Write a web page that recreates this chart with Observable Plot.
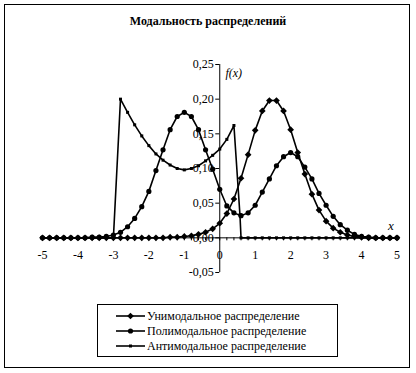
<!DOCTYPE html>
<html><head><meta charset="utf-8">
<script src="https://cdn.jsdelivr.net/npm/d3@7"></script>
<script src="https://cdn.jsdelivr.net/npm/@observablehq/plot@0.6"></script>
<style>
body{margin:0;background:#fff;}
#wrap{position:relative;width:416px;height:373px;overflow:hidden;font-family:"Liberation Serif","Tinos","Times New Roman","DejaVu Serif",serif;background:#fff;}
#frame{position:absolute;left:4px;top:4px;width:406px;height:364px;border:1.5px solid #000;box-sizing:border-box;}
#title{position:absolute;left:0;top:14px;width:416px;text-align:center;font-weight:bold;font-size:12px;line-height:14px;}
#chart,#legend{position:absolute;left:0;top:0;}
#chart svg text, #legend text{font-family:"Liberation Serif","Tinos","Times New Roman","DejaVu Serif",serif;}
</style></head>
<body>
<div id="wrap"><div id="frame"></div><div id="title">Модальность распределений</div><div id="chart"></div><svg id="legend" width="416" height="373"></svg></div>
<script>
const titleText = "Модальность распределений";
const seriesNames = ["Унимодальное распределение","Полимодальное распределение","Антимодальное распределение"];
const xs = [-5,-4.8,-4.6,-4.4,-4.2,-4,-3.8,-3.6,-3.4,-3.2,-3,-2.8,-2.6,-2.4,-2.2,-2,-1.8,-1.6,-1.4,-1.2,-1,-0.8,-0.6,-0.4,-0.2,0,0.2,0.4,0.6,0.8,1,1.2,1.4,1.6,1.8,2,2.2,2.4,2.6,2.8,3,3.2,3.4,3.6,3.8,4,4.2,4.4,4.6,4.8,5];
const unimodal = [0,0,0,0,0,0,0,0,0,0,0,0,0,0,0,0,0,0,0.001,0.001,0.002,0.003,0.005,0.008,0.013,0.021,0.035,0.056,0.086,0.12,0.155,0.183,0.198,0.198,0.183,0.156,0.123,0.092,0.063,0.04,0.024,0.014,0.008,0.004,0.002,0.001,0,0,0,0,0];
const polymodal = [0,0,0,0,0,0,0,0.001,0.001,0.002,0.004,0.008,0.016,0.028,0.045,0.067,0.097,0.127,0.156,0.175,0.181,0.175,0.156,0.127,0.099,0.07,0.046,0.036,0.032,0.036,0.047,0.066,0.085,0.104,0.117,0.123,0.117,0.102,0.085,0.064,0.047,0.031,0.019,0.011,0.005,0.002,0.001,0,0,0,0];
const antiXs = [-5,-4.8,-4.6,-4.4,-4.2,-4,-3.8,-3.6,-3.4,-3.2,-3,-2.8,-2.6,-2.4,-2.2,-2,-1.8,-1.6,-1.4,-1.2,-1,-0.8,-0.6,-0.4,-0.2,0,0.2,0.4,0.57,0.6,0.8,1,1.2,1.4,1.6,1.8,2,2.2,2.4,2.6,2.8,3,3.2,3.4,3.6,3.8,4,4.2,4.4,4.6,4.8,5];
const antimodal = [0,0,0,0,0,0,0,0,0,0,0,0.2,0.181,0.163,0.147,0.133,0.121,0.112,0.105,0.1,0.098,0.1,0.104,0.111,0.119,0.128,0.142,0.162,0.033,0,0,0,0,0,0,0,0,0,0,0,0,0,0,0,0,0,0,0,0,0,0,0];
const xTicks = [-5,-4,-3,-2,-1,0,1,2,3,4,5];
const xTickLabels = ["-5","-4","-3","-2","-1","0","1","2","3","4","5"];
const xMinorTicks = xs;
const yTicks = [-0.05,0,0.05,0.1,0.15,0.2,0.25];
const yTickLabels = ["-0,05","0,00","0,05","0,10","0,15","0,20","0,25"];
const symbols = ["diamond2","circle","square"];
const symR = [3.0,2.6,1.7];

const uniData = xs.map((x,i)=>({x, y:unimodal[i]}));
const polyData = xs.map((x,i)=>({x, y:polymodal[i]}));
const antiData = antiXs.map((x,i)=>({x, y:antimodal[i]}));
const all = [uniData, polyData, antiData];

const xDom = [xs[0], xs[xs.length-1]];
const yDom = [yTicks[0], yTicks[yTicks.length-1]];
const font = "'Liberation Serif','Tinos','Times New Roman','DejaVu Serif',serif";

const marks = [
  Plot.ruleY([0], {x1: xDom[0], x2: xDom[1], stroke:"#000", strokeWidth:1}),
  Plot.ruleX([0], {y1: yDom[0], y2: yDom[1], stroke:"#000", strokeWidth:1}),
  Plot.ruleX(xMinorTicks, {x:d=>d, y1:0, y2:0, insetBottom:-3, stroke:"#000", strokeWidth:1}),
  Plot.ruleY(yTicks, {y:d=>d, x1:0, x2:0, insetLeft:-4, stroke:"#000", strokeWidth:1}),
  Plot.text(yTicks, {x:0, y:d=>d, text:(d,i)=>yTickLabels[i], textAnchor:"end", dx:-6, fontSize:12, fill:"#000"}),
  Plot.text(xTicks, {x:d=>d, y:0, text:(d,i)=>xTickLabels[i], dy:17, fontSize:12, fill:"#000"}),
  Plot.text(["f(x)"], {x:0, y:yDom[1], text:d=>d, dx:14, dy:9, fontStyle:"italic", fontSize:12, fill:"#000"}),
  Plot.text(["x"], {x:xDom[1], y:0, text:d=>d, dx:-6, dy:-12, fontStyle:"italic", fontSize:13, fill:"#000"})
];
all.forEach((d,k)=>{
  marks.push(Plot.line(d, {x:"x", y:"y", stroke:"#000", strokeWidth:1.6}));
  marks.push(Plot.dot(d, {x:"x", y:"y", symbol:symbols[k], r:symR[k], fill:"#000", stroke:"none"}));
});

const chart = Plot.plot({
  width:416, height:373,
  marginLeft:42, marginRight:19.5, marginTop:64, marginBottom:101,
  x:{domain:xDom, axis:null},
  y:{domain:yDom, axis:null},
  style:{fontFamily:font, background:"transparent", overflow:"visible"},
  marks
});
document.getElementById("chart").appendChild(chart);
document.getElementById("title").textContent = titleText;

// legend
const lg = d3.select("#legend");
lg.append("rect").attr("x",97.5).attr("y",304.5).attr("width",240).attr("height",52)
  .attr("fill","none").attr("stroke","#000").attr("stroke-width",1);
const symGen = [d3.symbolDiamond2, d3.symbolCircle, d3.symbolSquare];
seriesNames.forEach((name,k)=>{
  const yy = 316 + k*15;
  const g = lg.append("g");
  g.append("line").attr("x1",116).attr("x2",145).attr("y1",yy).attr("y2",yy).attr("stroke","#000").attr("stroke-width",1.6);
  g.append("path").attr("d", d3.symbol(symGen[k], Math.PI*symR[k]*symR[k])()).attr("transform",`translate(130.5,${yy})`).attr("fill","#000");
  g.append("text").attr("x",147).attr("y",yy).attr("dy","0.35em").attr("font-size",12).text(name);
});
</script>
</body></html>
